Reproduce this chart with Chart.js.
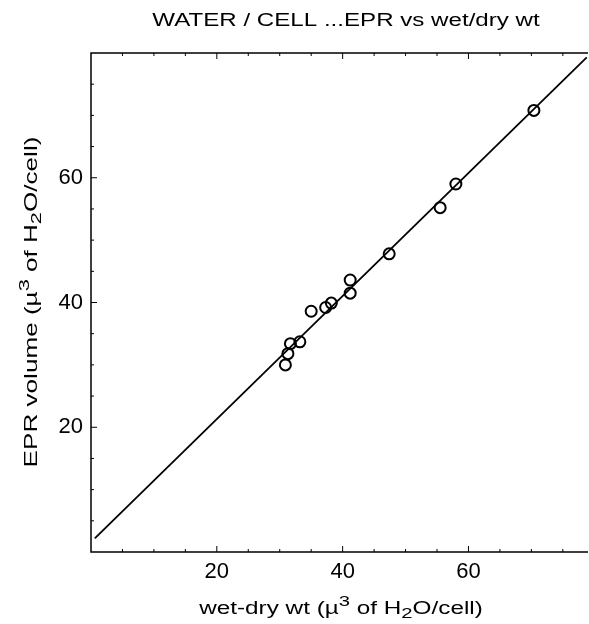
<!DOCTYPE html>
<html>
<head>
<meta charset="utf-8">
<script src="https://cdn.jsdelivr.net/npm/chart.js@4"></script>
<style>
  html, body { margin: 0; padding: 0; background: #fff; overflow: hidden; }
  #wrap { width: 589px; height: 624px; }
</style>
</head>
<body>
<div id="wrap"><canvas id="waterChart"></canvas></div>
<script>
const wetDryWt = [30.9, 31.3, 31.7, 33.2, 35.0, 37.3, 38.2, 41.2, 41.2, 47.4, 55.5, 58.0, 70.4];
const eprVolume = [30.0, 31.8, 33.4, 33.7, 38.6, 39.2, 39.9, 41.5, 43.6, 47.8, 55.2, 59.0, 70.8];

// regression line end points
const fitX = [0.6, 78.8];
const fitY = [2.2, 79.3];

const labelTicks = [20, 40, 60];
const FONT = "'Liberation Sans', Arial, Helvetica, sans-serif";

const canvas = document.getElementById("waterChart");

// text pieces, drawn one after another; sx stretches along the text direction
function drawParts(ctx, list, cx, baseY, sx) {
  let w = 0;
  list.forEach(p => { ctx.font = p.s + "px " + FONT; w += ctx.measureText(p.t).width; });
  ctx.save();
  ctx.translate(cx - (w * sx) / 2, baseY);
  ctx.scale(sx, 1);
  ctx.textAlign = "left";
  ctx.textBaseline = "alphabetic";
  let x = 0;
  list.forEach(p => {
    ctx.font = p.s + "px " + FONT;
    ctx.fillText(p.t, x, p.dy);
    x += ctx.measureText(p.t).width;
  });
  ctx.restore();
}

function axisTitle(pre) {
  return [
    { t: pre + " (\u00b5", s: 18, dy: 0 },
    { t: "3", s: 15, dy: -8 },
    { t: " of H", s: 18, dy: 0 },
    { t: "2", s: 15, dy: 4 },
    { t: "O/cell)", s: 18, dy: 0 }
  ];
}

// draws the title, axis titles and the inward tick marks
const decorPlugin = {
  id: "decor",
  afterDraw(chart) {
    const ctx = chart.ctx;
    const area = chart.chartArea;
    const xs = chart.scales.x;
    const ys = chart.scales.y;
    ctx.save();
    ctx.fillStyle = "#000";
    ctx.strokeStyle = "#000";

    // frame (top + left + bottom)
    ctx.lineWidth = 1.5;
    ctx.beginPath();
    ctx.moveTo(area.right, area.top);
    ctx.lineTo(area.left, area.top);
    ctx.lineTo(area.left, area.bottom);
    ctx.lineTo(area.right, area.bottom);
    ctx.stroke();

    // inward ticks every 5 units
    ctx.lineWidth = 1;
    for (let v = 5; v < xs.max; v += 5) {
      const px = xs.getPixelForValue(v);
      const len = v % 20 === 0 ? 6 : 3;
      ctx.beginPath();
      ctx.moveTo(px, area.bottom);
      ctx.lineTo(px, area.bottom - len);
      ctx.moveTo(px, area.top);
      ctx.lineTo(px, area.top + len);
      ctx.stroke();
    }
    for (let v = 5; v < ys.max; v += 5) {
      const py = ys.getPixelForValue(v);
      const len = v % 20 === 0 ? 6 : 3;
      ctx.beginPath();
      ctx.moveTo(area.left, py);
      ctx.lineTo(area.left + len, py);
      ctx.stroke();
    }

    // title
    drawParts(ctx, [{ t: "WATER / CELL ...EPR vs wet/dry wt", s: 18, dy: 0 }], 346, 26, 1.34);

    // axis titles
    drawParts(ctx, axisTitle("wet-dry wt"), 341, 614, 1.35);

    ctx.translate(37, 302);
    ctx.rotate(-Math.PI / 2);
    drawParts(ctx, axisTitle("EPR volume"), 0, 0, 1.45);
    ctx.restore();
  }
};

new Chart(canvas, {
  data: {
    datasets: [
      {
        type: "scatter",
        data: wetDryWt.map((x, i) => ({ x: x, y: eprVolume[i] })),
        pointRadius: 5.5,
        pointHoverRadius: 5.5,
        pointBackgroundColor: "rgba(255,255,255,0)",
        pointBorderColor: "#000",
        pointBorderWidth: 2
      },
      {
        type: "line",
        data: fitX.map((x, i) => ({ x: x, y: fitY[i] })),
        borderColor: "#000",
        borderWidth: 1.8,
        pointRadius: 0,
        fill: false
      }
    ]
  },
  options: {
    responsive: true,
    maintainAspectRatio: false,
    animation: false,
    events: [],
    layout: { autoPadding: false, padding: { top: 53, right: 1, left: 0, bottom: 0 } },
    plugins: {
      legend: { display: false },
      tooltip: { enabled: false }
    },
    scales: {
      x: {
        type: "linear",
        min: 0,
        max: 79,
        grid: { display: false, drawTicks: false },
        border: { display: false },
        afterBuildTicks: (scale) => { scale.ticks = labelTicks.map(v => ({ value: v })); },
        afterFit: (scale) => {
          scale.height = 72;
          scale.paddingLeft = 0;
          scale.paddingRight = 0;
        },
        ticks: {
          padding: 7,
          color: "#000",
          font: { family: FONT, size: 22 }
        }
      },
      y: {
        type: "linear",
        min: 0,
        max: 80,
        grid: { display: false, drawTicks: false },
        border: { display: false },
        afterBuildTicks: (scale) => { scale.ticks = labelTicks.map(v => ({ value: v })); },
        afterFit: (scale) => {
          scale.width = 91;
          scale.paddingTop = 0;
          scale.paddingBottom = 0;
        },
        ticks: {
          padding: 8,
          color: "#000",
          font: { family: FONT, size: 22 }
        }
      }
    }
  },
  plugins: [decorPlugin]
});
</script>
</body>
</html>
